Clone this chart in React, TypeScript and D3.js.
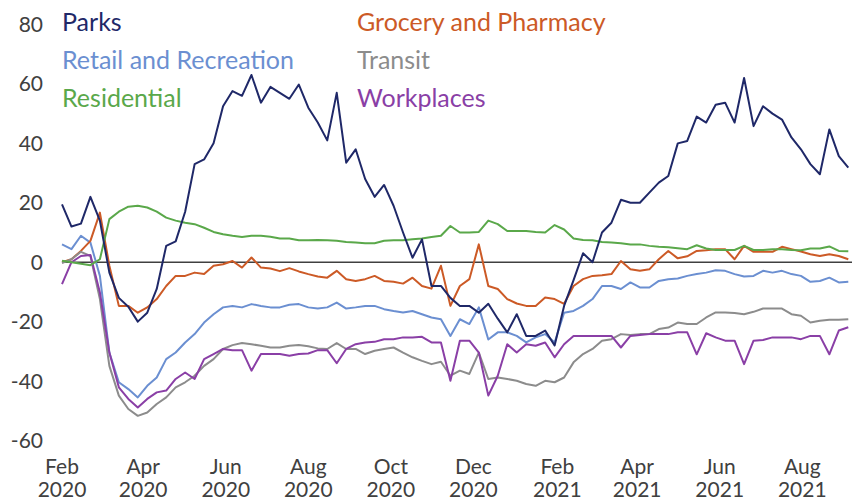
import React from "react";
import * as d3 from "d3";

// weekly readings, starting 1 Feb 2020
const parks = [
  19.5, 12, 13, 22, 14, -3.5, -12, -15, -20, -17, -9, 5.5, 7, 17, 33, 34.6, 40,
  52.5, 57.6, 56, 63, 53.7, 59, 57, 55, 59.8, 52, 47, 41, 57, 33.5, 38, 28, 22,
  26, 19, 10, 1.5, 7.7, -8, -8, -12, -14.7, -14.7, -17, -14, -19, -23.6, -17.5,
  -24.8, -24.8, -23, -28, -14.7, -6, 3, 0, 10, 13.3, 21, 20, 20, 23.4, 26.8, 29,
  40, 40.8, 49, 47, 53, 53.7, 47, 62, 45.8, 52.5, 50, 48, 42, 38, 33, 29.6, 44.7,
  35.7, 31.8,
];
const retail = [
  6, 4.4, 8.9, 6.6, -4.6, -30.4, -40.4, -42.7, -45.5, -41.6, -38.8, -32.6,
  -30.4, -27, -24.2, -20.3, -17.5, -15.2, -14.7, -15.2, -14.1, -14.7, -15.2,
  -15.2, -14.3, -14.1, -15.2, -15.6, -15.2, -13.6, -15.6, -15.2, -14.7, -14.7,
  -15.8, -16.4, -16.9, -16.4, -17.5, -18.6, -19.2, -24.8, -19.2, -20.8, -15.2,
  -26, -23.6, -23.6, -24.8, -27, -25.3, -24.2, -27, -17, -16.4, -14.7, -12.4,
  -8, -8, -9, -6.8, -8.5, -8.5, -6.3, -5.7, -5.5, -4.6, -4, -3.5, -2.7, -2.9,
  -4, -4.8, -4.6, -2.9, -3.5, -2.9, -4, -4.6, -6.6, -6.3, -5.2, -6.8, -6.6,
];
const residential = [
  0.5, 0, -0.5, -1, 1, 14.5, 17, 18.7, 19, 18.4, 17, 15, 14, 13.3, 12.8, 11.6,
  10.2, 9.4, 8.9, 8.5, 8.9, 8.9, 8.6, 8, 8, 7.4, 7.4, 7.5, 7.4, 7.2, 6.8, 6.6,
  6.4, 6.4, 7.2, 7.4, 7.4, 7.7, 8, 8.5, 8.9, 12.2, 10, 10, 10.2, 14, 12.8, 10.5,
  10.5, 10.5, 10.2, 10, 12.5, 11, 8, 7.5, 7.4, 6.8, 6.6, 6.4, 6, 6, 5.5, 5.2, 5,
  4.7, 4.4, 5.7, 4.6, 4.1, 4.1, 4.1, 5.5, 4.1, 4.1, 4.4, 4.4, 4.1, 4, 4.6, 4.6,
  5.3, 3.8, 3.7,
];
const grocery = [
  0, 1, 3.8, 7.2, 16.7, -1.2, -14.7, -14.7, -17, -15.2, -12.4, -8, -4.6, -4.6,
  -3.5, -4, -1.2, -0.7, 0.4, -1.8, 1.6, -1.8, -2.1, -3, -2, -3.1, -4, -4.8,
  -5.2, -2.9, -5.7, -6.3, -5.7, -4.6, -6.3, -6.6, -7.2, -5.2, -8, -8.9, -1.2,
  -14.7, -8, -5.7, 6, -8, -9, -12.4, -13.9, -14.7, -14.7, -11.9, -12.4, -14,
  -8, -5.7, -4.6, -4.4, -4, 0.4, -2.4, -2.9, -2.4, 1, 3.8, 1.3, 2, 3.8, 4, 4.4,
  4.4, 1, 5.5, 3.5, 3.5, 3.5, 5.2, 4.4, 3.6, 2.7, 2.1, 2.7, 2.1, 1,
];
const transit = [
  -0.3, 1, 3.5, 2.1, -12.4, -34.9, -44.9, -49.4, -51.7, -50.6, -47.7, -45.5,
  -42.1, -40.4, -38.2, -34.9, -32.6, -29.2, -27.9, -27.2, -27.6, -28.1, -28.7,
  -28.7, -28.1, -27.9, -28.3, -29, -29.2, -27.2, -29.2, -29.2, -30.9, -29.8,
  -29.2, -28.7, -30.4, -32, -33.2, -34.3, -33.5, -38.2, -36.5, -37.6, -30.4,
  -39.3, -38.8, -39.3, -39.9, -41, -41.6, -39.9, -40.4, -38.8, -33.7, -30.9,
  -29.2, -26.4, -25.9, -24.2, -24.5, -24.2, -24.2, -22.5, -22, -20.3, -20.8,
  -20.8, -18.6, -16.9, -16.9, -17.1, -17.5, -16.7, -15.6, -15.6, -15.6, -17.5,
  -18, -20.3, -19.7, -19.4, -19.4, -19.2,
];
const workplaces = [
  -7.4, 0, 2.1, 2.4, -10.2, -30.4, -42.1, -46, -48.9, -46, -43.8, -43.2, -39.3,
  -37.1, -39.3, -32.6, -30.9, -29.2, -29.6, -29.6, -36.5, -30.9, -30.9, -30.9,
  -31.5, -30.9, -30.7, -29.6, -29.6, -34, -29.2, -27.6, -27, -26.8, -25.9,
  -25.9, -25.3, -25.3, -25.1, -27, -27, -39.9, -26.4, -26.4, -30.4, -44.9,
  -38.2, -27.6, -30.4, -27.6, -28.1, -27, -32, -27.6, -24.8, -24.8, -24.8,
  -24.8, -24.8, -28.7, -24.8, -24.5, -24.2, -24.2, -24.2, -23.6, -23.6, -31,
  -23.9, -25.3, -26.4, -26.4, -34.3, -26.4, -26.2, -25.3, -25.3, -25.3, -25.9,
  -24.8, -24.8, -31, -23, -21.9,
];

const yTicks = [80, 60, 40, 20, 0, -20, -40, -60];
const xTickMonths = [
  "2020-02", "2020-04", "2020-06", "2020-08", "2020-10", "2020-12",
  "2021-02", "2021-04", "2021-06", "2021-08",
];

const series = [
  { name: "Retail and Recreation", values: retail, color: "#6b8fd1" },
  { name: "Grocery and Pharmacy", values: grocery, color: "#cc5a26" },
  { name: "Transit", values: transit, color: "#8c8c8c" },
  { name: "Workplaces", values: workplaces, color: "#8a3fa6" },
  { name: "Residential", values: residential, color: "#5aa84a" },
  { name: "Parks", values: parks, color: "#1f2868" },
];

const legend = [
  ["Parks", "Grocery and Pharmacy"],
  ["Retail and Recreation", "Transit"],
  ["Residential", "Workplaces"],
];

const start = new Date(2020, 1, 1);
const end = d3.timeDay.offset(start, 583);

export default function App() {
  const width = 854;
  const height = 502;
  const font = "Lato, 'Open Sans', sans-serif";

  const x = d3.scaleTime().domain([start, end]).range([62, 851]);
  const y = d3.scaleLinear().domain([-60, 80]).range([440.5, 24.5]);

  const line = d3
    .line<number>()
    .x((d, i) => x(d3.timeDay.offset(start, i * 7)))
    .y((d) => y(d));

  const parseMonth = d3.timeParse("%Y-%m");
  const xTicks = xTickMonths.map((m) => parseMonth(m)!);
  const colorOf = (n: string) => series.find((s) => s.name === n)!.color;

  return (
    <svg
      width={width}
      height={height}
      style={{ position: "absolute", left: 0, top: 0, background: "#fff" }}
      fontFamily={font}
    >
      {yTicks.map((t) => (
        <text
          key={t}
          x={43}
          y={y(t)}
          dy="0.36em"
          textAnchor="end"
          fontSize={21}
          fill="#404040"
        >
          {t}
        </text>
      ))}
      {xTicks.map((t) => (
        <text
          key={+t}
          x={x(t)}
          textAnchor="middle"
          fontSize={21}
          fill="#404040"
        >
          <tspan x={x(t)} y={474}>
            {d3.timeFormat("%b")(t)}
          </tspan>
          <tspan x={x(t)} y={497}>
            {d3.timeFormat("%Y")(t)}
          </tspan>
        </text>
      ))}
      <line
        x1={62}
        x2={852}
        y1={y(0)}
        y2={y(0)}
        stroke="#404040"
        strokeWidth={1.5}
      />
      {series.map((s) => (
        <path
          key={s.name}
          d={line(s.values) || ""}
          fill="none"
          stroke={s.color}
          strokeWidth={2}
          strokeLinejoin="round"
        />
      ))}
      {legend.map((row, i) =>
        row.map((n, j) => (
          <text
            key={n}
            x={j === 0 ? 62 : 357}
            y={31 + i * 38}
            fontSize={25}
            fill={colorOf(n)}
          >
            {n}
          </text>
        ))
      )}
    </svg>
  );
}
